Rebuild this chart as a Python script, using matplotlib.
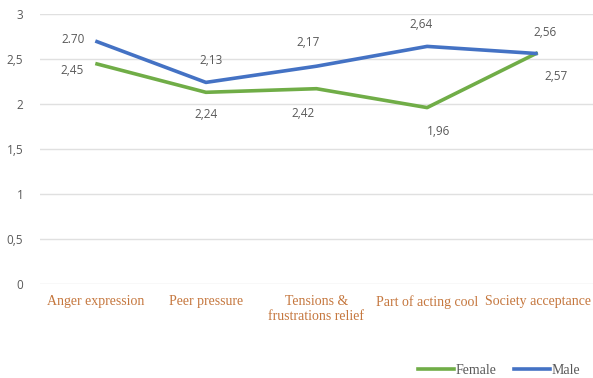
import matplotlib
matplotlib.use("Agg")
import matplotlib.pyplot as plt
from matplotlib.lines import Line2D

categories = ["Anger expression", "Peer pressure", "Tensions &\nfrustrations relief",
              "Part of acting cool", "Society acceptance"]
female = [2.45, 2.13, 2.17, 1.96, 2.57]
male = [2.70, 2.24, 2.42, 2.64, 2.56]
# data labels as printed in the source (upper / lower label per category)
upper_labels = ["2.70", "2,13", "2,17", "2,64", "2,56"]
lower_labels = ["2,45", "2,24", "2,42", "1,96", "2,57"]
yticks = [0, 0.5, 1, 1.5, 2, 2.5, 3]
ytick_labels = ["0", "0,5", "1", "1,5", "2", "2,5", "3"]

GREEN = "#70AD47"
BLUE = "#4472C4"
GRAY = "#595959"
ORANGE = "#C5773E"

fig = plt.figure(figsize=(5.93, 3.78), dpi=100)
ax = fig.add_axes([40/593, 94/378, 553/593, 270/378])
x = list(range(len(categories)))
ax.plot(x, female, color=GREEN, lw=2.6, solid_capstyle="butt", zorder=3)
ax.plot(x, male, color=BLUE, lw=2.6, solid_capstyle="butt", zorder=4)
ax.set_xlim(-0.5, len(categories) - 0.5)
ax.set_ylim(0, 3)
ax.set_yticks(yticks)
ax.set_yticklabels(ytick_labels, fontsize=8.5, color=GRAY, family="Open Sans")
ax.set_xticks(x)
ax.set_xticklabels(categories, fontsize=10, color=ORANGE, family="Liberation Serif",
                   linespacing=1.15)
ax.tick_params(axis="both", length=0)
ax.tick_params(axis="y", pad=12)
ax.tick_params(axis="x", pad=8)
for s in ax.spines.values():
    s.set_visible(False)
ax.grid(axis="y", color="#E0E0E0", lw=1)
ax.set_axisbelow(True)

# label offsets in points (dx, dy) relative to the data point
up_off = [(-16, 1), (4, 16), (-6, 17), (-4, 16), (5, 15)]
up_ref = [male[0], male[1], male[2], male[3], male[4]]
lo_off = [(-17, -5), (0, -16), (-10, -18), (8, -17), (13, -17)]
lo_ref = [female[0], female[1], female[2], female[3], female[4]]
for i in x:
    ax.annotate(upper_labels[i], (i, up_ref[i]), xytext=up_off[i], textcoords="offset points",
                ha="center", va="center", fontsize=8.5, color=GRAY, family="Open Sans")
    ax.annotate(lower_labels[i], (i, lo_ref[i]), xytext=lo_off[i], textcoords="offset points",
                ha="center", va="center", fontsize=8.5, color=GRAY, family="Open Sans")

handles = [Line2D([], [], color=GREEN, lw=2.6), Line2D([], [], color=BLUE, lw=2.6)]
fig.legend(handles, ["Female", "Male"], loc="lower right", bbox_to_anchor=(1.0, -0.03),
           ncol=2, frameon=False, prop={"family": "Liberation Serif", "size": 10},
           labelcolor=GRAY, handlelength=2.6, handletextpad=0.1, columnspacing=1.3)

fig.savefig("out.png", dpi=100)
